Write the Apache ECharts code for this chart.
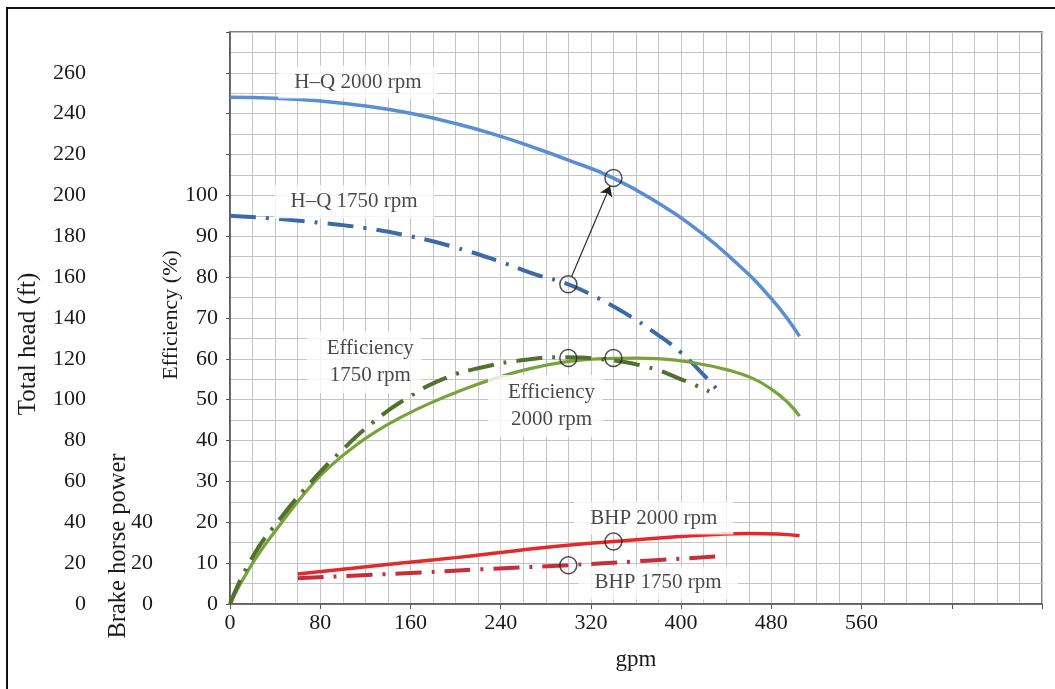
<!DOCTYPE html>
<html><head><meta charset="utf-8">
<script src="https://cdn.jsdelivr.net/npm/echarts@6/dist/echarts.min.js"></script>
<style>html,body{margin:0;padding:0;background:#fff}#c{width:1055px;height:689px}</style>
</head><body><div id="c"></div><script>
// ---- data: [gpm, value] ----
const hq2000 = [[0,248],[40,247.6],[80,246.2],[120,243.8],[160,240.2],[200,235.2],[240,228.9],[266,224.1],[300,217.3],[340,208.5],[385,194.5],[410,185],[444,169.5],[480,149.5],[505,131]];
const hq1750 = [[0,190],[40,188.6],[80,186.6],[120,184],[160,180],[200,174.5],[240,167.5],[270,161.5],[300,156.5],[320,151.5],[350,142.5],[380,131.5],[400,123],[415,115],[432,105]];
const eff2000 = [[0,0],[20,10],[46,20],[60,25],[74,29.6],[90,34],[112,38.9],[130,42.3],[151,45.6],[177,49.1],[207,52.5],[237,55.4],[266,57.6],[296,59.2],[320,59.9],[340,60.1],[360,60.2],[382,60],[412,59],[441,57.3],[462,55.4],[480,52.6],[495,49.2],[505,46]];
const eff1750 = [[0,0],[20,11.5],[46,21.4],[74,30.5],[98,37.3],[127,44.5],[157,50.4],[192,55.4],[225,58],[260,59.7],[296,60.4],[326,60],[370,58],[400,55],[425,52]];
const bhp2000 = [[60,14.7],[100,17],[150,19.9],[200,22.7],[240,25.2],[290,28.3],[340,30.6],[390,32.7],[430,34],[460,34.5],[485,34.3],[505,33.4]];
const bhp1750 = [[60,12.6],[160,15.2],[230,17.2],[300,19],[370,21.2],[432,23.3]];
// marked operating points
const headPoints = [[340,208.5],[300,156.5]];
const effPoints = [[300,60.2],[340,60.2]];
const bhpPoints = [[340,30.6],[300,19]];
const arrowFrom = [300,156.5];
const arrowTo = [340,208.5];
// tick labels
const xTickLabels = [0,80,160,240,320,400,480,560];
const headTickLabels = [0,20,40,60,80,100,120,140,160,180,200,220,240,260];
const bhpTickLabels = [0,20,40];
const effTickLabels = [0,10,20,30,40,50,60,70,80,90,100];
// curve labels
const curveLabels = ['H–Q 2000 rpm','H–Q 1750 rpm','Efficiency\n1750 rpm','Efficiency\n2000 rpm','BHP 2000 rpm','BHP 1750 rpm'];
const curveLabelAt = [[113.4,255.5],[110,196.9],[119,118.5],[279.7,96.9],[375.8,42.1],[379.6,10.3]];

const FONT = "'Liberation Serif','Times New Roman',serif";
const TXT = '#1a1a1a';
const GRIDC = '#c4c4c4';
const FRAME = '#555';
const dashDot = [26, 10, 3, 10];

const chart = echarts.init(document.getElementById('c'), null, {renderer:'canvas'});

const f = 0.075;
const aStart = [arrowFrom[0] + f*(arrowTo[0]-arrowFrom[0]), arrowFrom[1] + f*(arrowTo[1]-arrowFrom[1])];
const aEnd = [arrowTo[0] - f*(arrowTo[0]-arrowFrom[0]), arrowTo[1] - f*(arrowTo[1]-arrowFrom[1])];

const circleStyle = {color:'rgba(0,0,0,0)', borderColor:'#222', borderWidth:1.5};
const lineBase = {type:'line', showSymbol:false, smooth:0.5, z:3};

chart.setOption({
  animation:false,
  backgroundColor:'#fff',
  grid:{left:230, top:32, right:13, bottom:85, show:true, borderColor:FRAME, borderWidth:1.5},
  xAxis:{
    type:'value', min:0, max:720, interval:80,
    axisLine:{show:true, lineStyle:{color:FRAME, width:1.5}},
    axisTick:{show:true, length:5, lineStyle:{color:FRAME}},
    axisLabel:{formatter:v=>xTickLabels.includes(v)?String(v):'', fontFamily:FONT, fontSize:22, color:TXT, margin:8},
    splitLine:{show:true, lineStyle:{color:GRIDC, width:1}},
    minorTick:{show:false, splitNumber:4},
    minorSplitLine:{show:true, lineStyle:{color:GRIDC, width:1}},
    name:'gpm', nameLocation:'middle', nameGap:44,
    nameTextStyle:{fontFamily:FONT, fontSize:23, color:TXT}
  },
  yAxis:[
    {type:'value', min:0, max:280, interval:20, position:'left', offset:136,
     axisLine:{show:false}, axisTick:{show:false},
     axisLabel:{formatter:v=>headTickLabels.includes(v)?String(v):'', fontFamily:FONT, fontSize:22, color:TXT, margin:8},
     splitLine:{show:true, lineStyle:{color:GRIDC, width:1}},
     minorTick:{show:false, splitNumber:2},
     minorSplitLine:{show:true, lineStyle:{color:GRIDC, width:1}}},
    {type:'value', min:0, max:280, interval:20, position:'left', offset:69,
     axisLine:{show:false}, axisTick:{show:false}, splitLine:{show:false},
     axisLabel:{formatter:v=>bhpTickLabels.includes(v)?String(v):'', fontFamily:FONT, fontSize:22, color:TXT, margin:8}},
    {type:'value', min:0, max:140, interval:10, position:'left', offset:0,
     axisLine:{show:true, lineStyle:{color:FRAME, width:1.5}},
     axisTick:{show:true, length:4, lineStyle:{color:FRAME}},
     splitLine:{show:false},
     axisLabel:{formatter:v=>effTickLabels.includes(v)?String(v):'', fontFamily:FONT, fontSize:22, color:TXT, margin:12}}
  ],
  graphic:[
    {type:'rect', shape:{x:7, y:8, width:1200, height:900}, style:{fill:'none', stroke:'#111', lineWidth:2}, silent:true},
    {type:'text', x:28, y:344, rotation:Math.PI/2, style:{text:'Total head (ft)', font:"25px 'Liberation Serif', serif", fill:TXT, align:'center', verticalAlign:'middle'}},
    {type:'text', x:119, y:546, rotation:Math.PI/2, style:{text:'Brake horse power', font:"24.5px 'Liberation Serif', serif", fill:TXT, align:'center', verticalAlign:'middle'}},
    {type:'text', x:171, y:315, rotation:Math.PI/2, style:{text:'Efficiency (%)', font:"22px 'Liberation Serif', serif", fill:TXT, align:'center', verticalAlign:'middle'}}
  ],
  series:[
    Object.assign({name:'H–Q 2000 rpm', yAxisIndex:0, data:hq2000, lineStyle:{color:'#5a8ed2', width:3.5}}, lineBase),
    Object.assign({name:'H–Q 1750 rpm', yAxisIndex:0, data:hq1750, lineStyle:{color:'#3c6aa7', width:4, type:dashDot}}, lineBase),
    Object.assign({name:'Efficiency 2000 rpm', yAxisIndex:2, data:eff2000, lineStyle:{color:'#78a23a', width:3.2}}, lineBase),
    Object.assign({name:'Efficiency 1750 rpm', yAxisIndex:2, data:eff1750, lineStyle:{color:'#52702e', width:4, type:dashDot}}, lineBase),
    Object.assign({name:'BHP 2000 rpm', yAxisIndex:1, data:bhp2000, lineStyle:{color:'#e4282b', width:3.5}}, lineBase),
    Object.assign({name:'BHP 1750 rpm', yAxisIndex:1, data:bhp1750, lineStyle:{color:'#c72e3a', width:4, type:dashDot}}, lineBase),
    {type:'scatter', yAxisIndex:0, data:headPoints, symbol:'circle', symbolSize:17, itemStyle:circleStyle, z:5},
    {type:'scatter', yAxisIndex:2, data:effPoints, symbol:'circle', symbolSize:17, itemStyle:circleStyle, z:5},
    {type:'scatter', yAxisIndex:1, data:bhpPoints, symbol:'circle', symbolSize:17, itemStyle:circleStyle, z:5},
    {type:'lines', coordinateSystem:'cartesian2d', xAxisIndex:0, yAxisIndex:0, z:6,
     symbol:['none','arrow'], symbolSize:10,
     lineStyle:{color:'#222', width:1.1, opacity:1},
     data:[{coords:[aStart, aEnd]}]},
    {type:'scatter', yAxisIndex:0, symbol:'circle', symbolSize:1, itemStyle:{color:'rgba(0,0,0,0)'}, z:4,
     data:curveLabels.map((t,i)=>({value:curveLabelAt[i],
       label:{show:true, position:'inside', formatter:t, fontFamily:FONT, fontSize:21, color:TXT, lineHeight:27,
              backgroundColor:'#fff', padding:(i===2||i===3)?[4,8,4,20]:[3,16,3,16]}}))}
  ]
});
</script></body></html>
